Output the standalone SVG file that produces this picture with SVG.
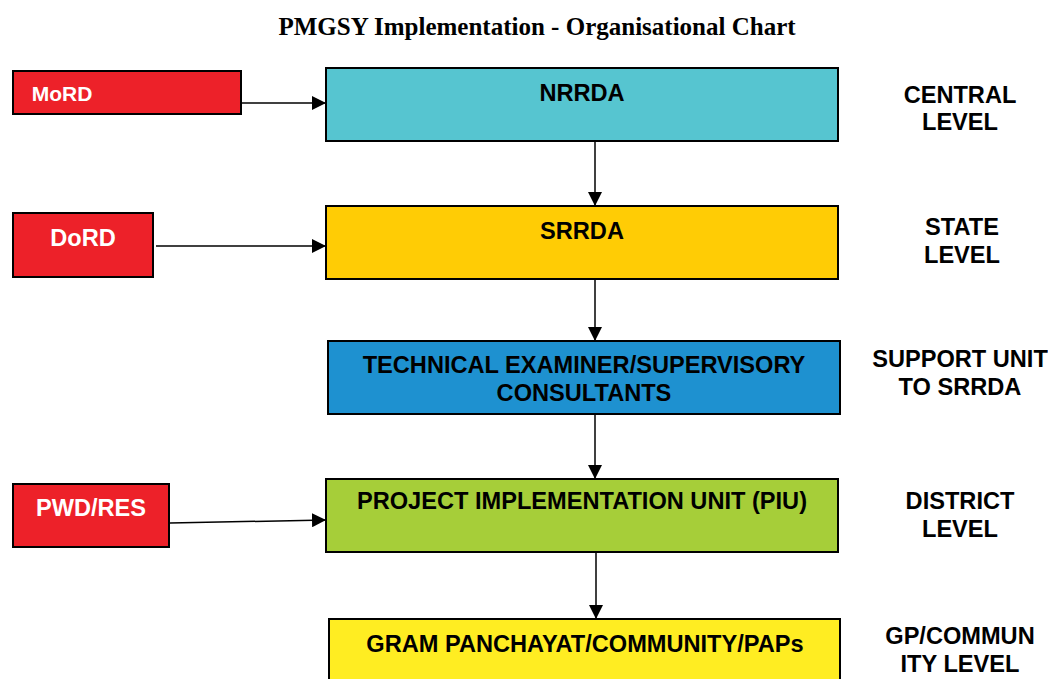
<svg xmlns="http://www.w3.org/2000/svg" width="1048" height="679" viewBox="0 0 1048 679">
<style>
.box{stroke:#000;stroke-width:2}
.t{font-family:"Liberation Sans",Arial,sans-serif;font-weight:bold;font-size:23.6px;fill:#000;text-anchor:middle}
.w{fill:#fff}
.c{stroke:#000;stroke-width:1.5;fill:none;marker-end:url(#ah)}
.title{font-family:"Liberation Serif","Times New Roman",serif;font-weight:bold;font-size:25px;fill:#000;text-anchor:middle}
</style>
<defs>
<marker id="ah" markerWidth="14" markerHeight="14" refX="14" refY="7" orient="auto" markerUnits="userSpaceOnUse">
<path d="M0,0 L14,7 L0,14 Z" fill="#000"/>
</marker>
</defs>
<rect width="1048" height="679" fill="#fff"/>
<text class="title" x="537" y="35">PMGSY Implementation - Organisational Chart</text>

<g id="connectors">
<line class="c" x1="241" y1="103" x2="326" y2="103"/>
<line class="c" x1="156" y1="246" x2="326" y2="246"/>
<line class="c" x1="170" y1="523" x2="326" y2="520"/>
<line class="c" x1="595" y1="141" x2="595" y2="206"/>
<line class="c" x1="595" y1="279" x2="595" y2="341"/>
<line class="c" x1="595" y1="414" x2="595" y2="479"/>
<line class="c" x1="596" y1="553" x2="596" y2="619"/>
</g>

<g id="mord">
<rect class="box" x="13" y="71" width="228" height="43" fill="#ED2129"/>
<text class="t w" x="62" y="101" style="font-size:21px">MoRD</text>
</g>
<g id="dord">
<rect class="box" x="13" y="213" width="140" height="64" fill="#ED2129"/>
<text class="t w" x="83" y="246">DoRD</text>
</g>
<g id="pwdres">
<rect class="box" x="13" y="484" width="156" height="63" fill="#ED2129"/>
<text class="t w" x="91" y="516">PWD/RES</text>
</g>

<g id="nrrda">
<rect class="box" x="326" y="68" width="512" height="73" fill="#56C5D0"/>
<text class="t" x="582" y="101">NRRDA</text>
</g>
<g id="srrda">
<rect class="box" x="326" y="206" width="512" height="73" fill="#FFCC05"/>
<text class="t" x="582" y="239">SRRDA</text>
</g>
<g id="tech">
<rect class="box" x="328" y="341" width="512" height="73" fill="#1E91D0"/>
<text class="t" x="584" y="373">TECHNICAL EXAMINER/SUPERVISORY</text>
<text class="t" x="584" y="401">CONSULTANTS</text>
</g>
<g id="piu">
<rect class="box" x="326" y="479" width="512" height="73" fill="#A6CE39"/>
<text class="t" x="582" y="509">PROJECT IMPLEMENTATION UNIT (PIU)</text>
</g>
<g id="gp">
<rect class="box" x="329" y="619" width="511" height="75" fill="#FFED22"/>
<text class="t" x="585" y="652">GRAM PANCHAYAT/COMMUNITY/PAPs</text>
</g>

<g id="levels">
<text class="t" x="960" y="103">CENTRAL</text>
<text class="t" x="960" y="130">LEVEL</text>
<text class="t" x="962" y="235">STATE</text>
<text class="t" x="962" y="263">LEVEL</text>
<text class="t" x="960" y="367">SUPPORT UNIT</text>
<text class="t" x="960" y="395">TO SRRDA</text>
<text class="t" x="960" y="509">DISTRICT</text>
<text class="t" x="960" y="537">LEVEL</text>
<text class="t" x="960" y="644">GP/COMMUN</text>
<text class="t" x="960" y="672">ITY LEVEL</text>
</g>
</svg>
